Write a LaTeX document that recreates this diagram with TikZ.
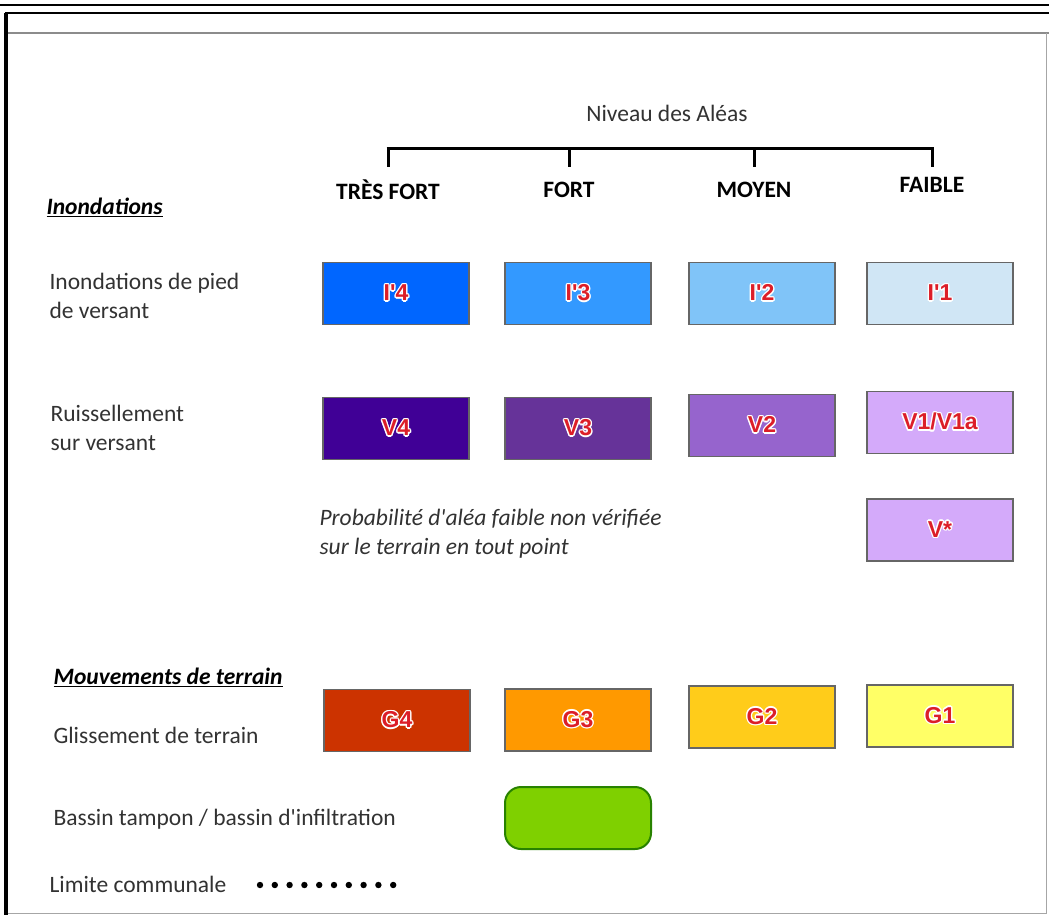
\documentclass[tikz,border=0pt]{standalone}
\usepackage{fontspec}
\setmainfont{Carlito}
\newfontfamily\boxfont{Liberation Sans}
\usepackage[copies]{contour}
\contourlength{1.3pt}
\contournumber{10}
\usetikzlibrary{positioning}

\definecolor{ifour}{RGB}{0,102,255}
\definecolor{ithree}{RGB}{51,153,255}
\definecolor{itwo}{RGB}{128,196,248}
\definecolor{ione}{RGB}{208,230,245}
\definecolor{vfour}{RGB}{64,0,150}
\definecolor{vthree}{RGB}{102,51,153}
\definecolor{vtwo}{RGB}{150,100,205}
\definecolor{vone}{RGB}{212,170,250}
\definecolor{gfour}{RGB}{204,51,0}
\definecolor{gthree}{RGB}{255,153,0}
\definecolor{gtwo}{RGB}{255,204,26}
\definecolor{gone}{RGB}{255,255,102}
\definecolor{bassinvert}{RGB}{127,208,0}
\definecolor{bassinbord}{RGB}{40,130,0}
\definecolor{alearouge}{RGB}{220,30,40}
\definecolor{texte}{RGB}{50,50,50}

\begin{document}
\begin{tikzpicture}[x=1pt,y=-1pt,
                alea/.style={draw=black!60,line width=1.2pt,minimum width=146,minimum height=62,inner sep=0pt,
                             font=\boxfont\bfseries\fontsize{23}{23}\selectfont,text=alearouge},
                legende/.style={anchor=west,align=left,text=texte,font=\fontsize{23.5}{29}\selectfont},
                titre/.style={anchor=west,text=black,font=\bfseries\itshape\fontsize{23.5}{29}\selectfont},
                niveau/.style={text=black,font=\bfseries\fontsize{23.5}{29}\selectfont}
            ]
                \useasboundingbox (0,0) rectangle (1049,915);
                % cadre
                \draw[line width=2.5pt] (0,5) -- (1049,5);
                \draw[line width=2.5pt] (5,13) -- (1049,13);
                \draw[line width=3.5pt] (6,13) -- (6,915);
                \draw[black!45,line width=1.2pt] (8,33) -- (1049,33);
                \draw[black!35,line width=1pt] (1046,33) -- (1046,913) -- (8,913);

                % en-tete
                \node[text=texte,font=\fontsize{23.5}{29}\selectfont] (niv) at (667,113) {Niveau des Aléas};
                \node[niveau] (tf) at (388,190) {TRÈS FORT};
                \node[niveau] (fo) at (569,190) {FORT};
                \node[niveau] (mo) at (754,190) {MOYEN};
                \node[niveau] (fa) at (932,185) {FAIBLE};
                \foreach \n/\x in {tf/388,fo/569,mo/754,fa/932}
                    {
                    \coordinate (h\n) at (\x,148);
                    \coordinate (b\n) at (\x,167);
                    \draw[line width=3pt] (h\n) -- (b\n);
                }
                \draw[line width=3pt] ([xshift=-1.5pt]htf) -- ([xshift=1.5pt]hfa);

                % Inondations
                \node[titre] (inond) at (43,207) {\underline{Inondations}};
                \node[legende] (pied) at (46,296) {Inondations de pied\\de versant};
                \node[legende] (ruis) at (47,428) {Ruissellement\\sur versant};
                \foreach \n/\x/\c in {4/396/ifour,3/578/ithree,2/762/itwo,1/940/ione}
                    {
                    \node[alea,fill=\c] (I\n) at (\x,293.5) {\contour{white}{I\textquotesingle\n}};
                }
                \foreach \n/\x/\y/\c in {4/396/428.5/vfour,3/578/428.5/vthree,2/762/425.5/vtwo}
                    {
                    \node[alea,fill=\c] (V\n) at (\x,\y) {\contour{white}{V\n}};
                }
                \node[alea,fill=vone] (V1) at (940,422.5) {\contour{white}{V1/V1a}};
                \node[alea,fill=vone] (Vstar) at (940,530) {\contour{white}{V*}};
                \node[legende,font=\itshape\fontsize{23.5}{29}\selectfont] (proba) at (316,534)
                    {Probabilité d\textquotesingle aléa faible non vérifiée\\sur le terrain en tout point};

                % Mouvements de terrain
                \node[titre] (mouv) at (50,677) {\underline{Mouvements de terrain}};
                \node[legende] (gliss) at (50,735) {Glissement de terrain};
                \foreach \n/\x/\y/\c in {4/397/720.5/gfour,3/578/720/gthree,2/762/717/gtwo,1/940/716/gone}
                    {
                    \node[alea,fill=\c] (G\n) at (\x,\y) {\contour{white}{G\n}};
                }

                \node[legende] (bass) at (50,819) {Bassin tampon / bassin d\textquotesingle infiltration};
                \node[draw=bassinbord,fill=bassinvert,line width=2pt,rounded corners=16,
                      minimum width=146,minimum height=62] (bassin) at (578,818) {};

                \node[legende] (lim) at (46,884) {Limite communale};
                \foreach \i in {0,...,9}
                    \fill (260+14.8*\i,885) circle (3.2);
            \end{tikzpicture}
\end{document}
